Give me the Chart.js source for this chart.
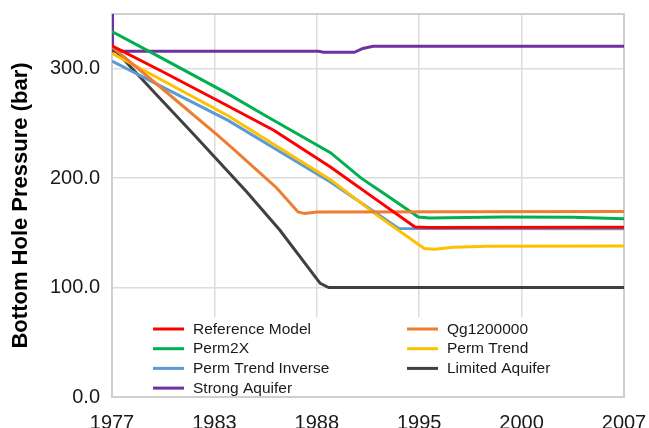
<!DOCTYPE html>
<html>
<head>
<meta charset="utf-8">
<script src="https://cdn.jsdelivr.net/npm/chart.js@4/dist/chart.umd.min.js"></script>
<style>
  html, body { margin: 0; padding: 0; background: #ffffff; }
  #wrap { width: 649px; height: 428px; }
</style>
</head>
<body>
<div id="wrap"><canvas id="c" width="649" height="428"></canvas></div>
<script>
// Axis ticks
const xTickPositions = [1977, 1983, 1989, 1995, 2001, 2007];
const xTickLabels = ["1977", "1983", "1988", "1995", "2000", "2007"];
const yTickValues = [0, 100, 200, 300];

// Series names and colours
const seriesNames = ["Reference Model", "Qg1200000", "Perm2X", "Perm Trend",
                     "Perm Trend Inverse", "Limited Aquifer", "Strong Aquifer"];
const seriesColors = ["#ff0000", "#ed7d31", "#00b050", "#ffc000",
                      "#5b9bd5", "#404040", "#7030a0"];

// Bottom hole pressure (bar) against time (decimal year)
const refYears = [1977, 1980, 1983.3, 1986.5, 1989.8, 1992.3, 1994.75, 1995.5, 2007];
const refBar   = [321, 297, 270, 243.5, 210.2, 182.4, 155.4, 154.8, 155.2];

const qgYears = [1977, 1980, 1983.2, 1984.2, 1986.65, 1987.9, 1988.3, 1989, 2007];
const qgBar   = [320, 281, 239, 225.4, 191, 169.1, 167.6, 169, 169.5];

const perm2xYears = [1977, 1980, 1983.8, 1986, 1989.8, 1991.6, 1993, 1994.95, 1995.6, 2000, 2004, 2007];
const perm2xBar   = [334, 309, 277, 257, 223.3, 200, 185.3, 164.5, 163.5, 164.5, 164.2, 163];

const trendYears = [1977, 1980, 1983.8, 1986.8, 1989.8, 1992.5, 1995.3, 1995.9, 1997, 1999, 2007];
const trendBar   = [314, 289, 257, 227.8, 198.6, 166.4, 135.7, 135, 136.8, 137.8, 138];

const inverseYears = [1977, 1980, 1983.8, 1986.8, 1989.8, 1992, 1993.8, 2007];
const inverseBar   = [307, 283, 252.8, 224.6, 196.5, 173.2, 154, 153.8];

const limitedYears = [1977, 1979.5, 1981.85, 1984.9, 1986.84, 1989.2, 1989.7, 2007];
const limitedBar   = [320, 278, 239, 187.4, 152.4, 103.8, 100, 100];

const strongYears = [1977, 1977.03, 1989.1, 1989.4, 1991.2, 1991.7, 1992.3, 2007];
const strongBar   = [352, 316, 316, 315, 315, 318.5, 320.5, 320.5];

const seriesYears = [refYears, qgYears, perm2xYears, trendYears, inverseYears, limitedYears, strongYears];
const seriesBar   = [refBar, qgBar, perm2xBar, trendBar, inverseBar, limitedBar, strongBar];

const datasets = seriesNames.map((name, i) => ({
  label: name,
  data: seriesYears[i].map((yr, k) => ({ x: yr, y: seriesBar[i][k] })),
  borderColor: seriesColors[i],
  backgroundColor: seriesColors[i],
  borderWidth: 3,
  pointRadius: 0,
  tension: 0,
  fill: false
}));

const FONT = "'Liberation Sans', Arial, sans-serif";

// Keep the plot box fixed: scales ask for no extra overhang padding
function noOverhang(scale) {
  scale.paddingTop = 0;
  scale.paddingBottom = 0;
  scale.paddingLeft = 0;
  scale.paddingRight = 0;
}

// Grey frame around the plotting area
const frame = {
  id: 'frame',
  beforeDatasetsDraw(chart) {
    const a = chart.chartArea, ctx = chart.ctx;
    ctx.save();
    ctx.strokeStyle = '#cfcfcf';
    ctx.lineWidth = 2;
    ctx.strokeRect(a.left, a.top, a.right - a.left, a.bottom - a.top);
    ctx.restore();
  }
};

// Two-column legend inside the bottom of the plot
const insideLegend = {
  id: 'insideLegend',
  afterDatasetsDraw(chart) {
    const a = chart.chartArea, ctx = chart.ctx;
    ctx.save();
    ctx.fillStyle = '#ffffff';
    ctx.fillRect(a.left + 18, a.bottom - 80, a.right - a.left - 36, 79);
    ctx.font = '15.5px ' + FONT;
    ctx.textBaseline = 'middle';
    ctx.textAlign = 'left';
    chart.data.datasets.forEach((ds, i) => {
      const col = i % 2, row = Math.floor(i / 2);
      const x0 = a.left + (col === 0 ? 41 : 295);
      const y = a.bottom - 68 + row * 19.7;
      ctx.strokeStyle = ds.borderColor;
      ctx.lineWidth = 3;
      ctx.beginPath();
      ctx.moveTo(x0, y);
      ctx.lineTo(x0 + 31, y);
      ctx.stroke();
      ctx.fillStyle = '#1a1a1a';
      ctx.fillText(ds.label, x0 + 40, y + 0.5);
    });
    ctx.restore();
  }
};

new Chart(document.getElementById('c'), {
  type: 'line',
  data: { datasets },
  options: {
    responsive: false,
    animation: false,
    layout: { padding: { left: 0, top: 14, right: 25, bottom: 0 } },
    plugins: { legend: { display: false }, tooltip: { enabled: false } },
    scales: {
      x: {
        type: 'linear',
        min: 1977,
        max: 2007,
        afterBuildTicks(scale) { scale.ticks = xTickPositions.map(v => ({ value: v })); },
        afterFit(scale) { scale.height = 31; noOverhang(scale); },
        grid: { color: '#dcdcdc', lineWidth: 1.5, drawTicks: false },
        border: { display: false },
        ticks: {
          padding: 14,
          color: '#1a1a1a',
          font: { family: FONT, size: 20 },
          maxRotation: 0,
          autoSkip: false,
          callback(value) {
            const i = xTickPositions.indexOf(value);
            return i >= 0 ? xTickLabels[i] : '';
          }
        }
      },
      y: {
        min: 0,
        max: 350,
        afterBuildTicks(scale) { scale.ticks = yTickValues.map(v => ({ value: v })); },
        afterFit(scale) { scale.width = 112; noOverhang(scale); },
        grid: { color: '#dcdcdc', lineWidth: 1.5, drawTicks: false },
        border: { display: false },
        ticks: {
          padding: 12,
          color: '#1a1a1a',
          font: { family: FONT, size: 20 },
          callback(value) { return Number(value).toFixed(1); }
        },
        title: {
          display: true,
          text: 'Bottom Hole Pressure (bar)',
          color: '#000000',
          font: { family: FONT, size: 22, weight: 'bold' },
          padding: { top: 8, bottom: 0 }
        }
      }
    }
  },
  plugins: [frame, insideLegend]
});
</script>
</body>
</html>
